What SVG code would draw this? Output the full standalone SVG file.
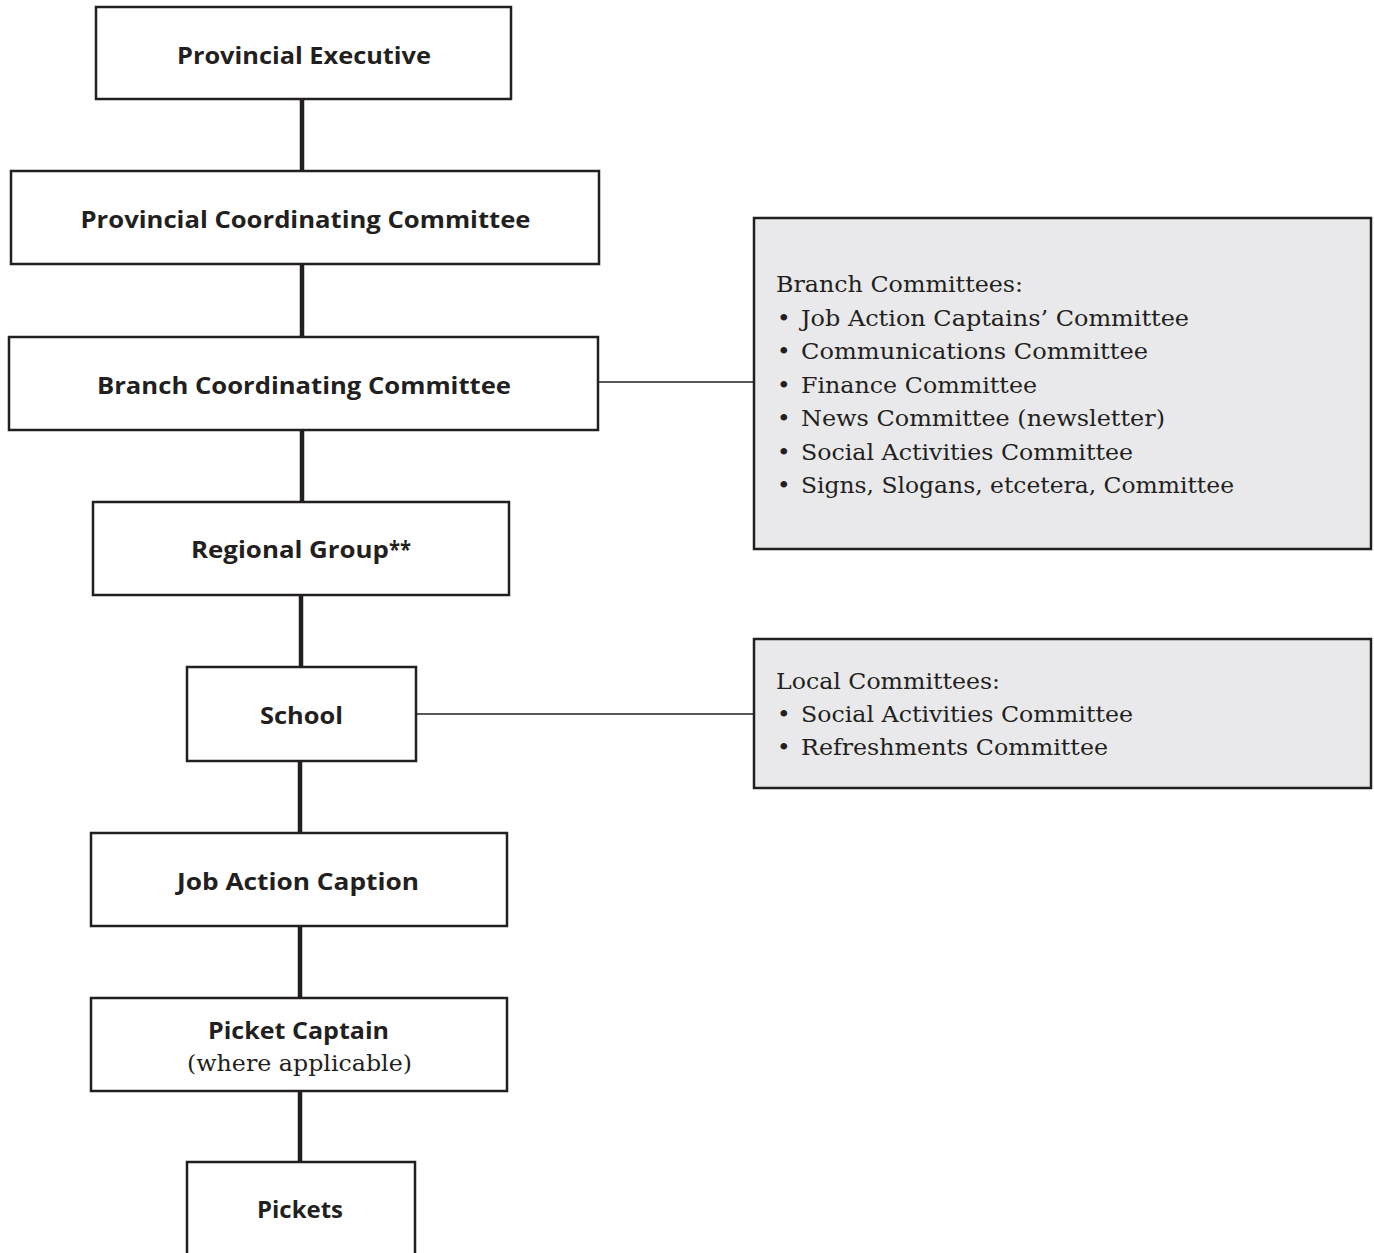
<svg xmlns="http://www.w3.org/2000/svg" width="1374" height="1253" viewBox="0 0 1374 1253">
<style>
.box{fill:#ffffff;stroke:#231f20;stroke-width:2.5}
.gbox{fill:#e9e9eb;stroke:#231f20;stroke-width:2.5}
.thick{stroke:#231f20;stroke-width:4.5;fill:none}
.thin{stroke:#231f20;stroke-width:1.3;fill:none}
.b{font-family:"Open Sans","Liberation Sans",sans-serif;font-weight:bold;font-size:24px;fill:#231f20;text-anchor:middle}
.s{font-family:"DejaVu Serif","Liberation Serif",serif;font-size:23px;fill:#231f20}
.sm{font-family:"DejaVu Serif","Liberation Serif",serif;font-size:23px;fill:#231f20;text-anchor:middle}
</style>
<rect width="1374" height="1253" fill="#ffffff"/>
<g id="connectors">
<line class="thick" x1="302" y1="99" x2="302" y2="171"/>
<line class="thick" x1="302" y1="264" x2="302" y2="337"/>
<line class="thick" x1="302" y1="430" x2="302" y2="502"/>
<line class="thick" x1="301" y1="595" x2="301" y2="667"/>
<line class="thick" x1="300" y1="761" x2="300" y2="833"/>
<line class="thick" x1="300" y1="926" x2="300" y2="998"/>
<line class="thick" x1="300" y1="1091" x2="300" y2="1162"/>
<line class="thin" x1="598" y1="382" x2="754" y2="382"/>
<line class="thin" x1="416" y1="714" x2="754" y2="714"/>
</g>
<g id="provincial-executive">
<rect class="box" x="96" y="7" width="415" height="92"/>
<text class="b" x="304" y="64" textLength="254" lengthAdjust="spacingAndGlyphs">Provincial Executive</text>
</g>
<g id="provincial-coordinating">
<rect class="box" x="11" y="171" width="588" height="93"/>
<text class="b" x="305.5" y="228" textLength="450" lengthAdjust="spacingAndGlyphs">Provincial Coordinating Committee</text>
</g>
<g id="branch-coordinating">
<rect class="box" x="9" y="337" width="589" height="93"/>
<text class="b" x="304" y="394" textLength="414" lengthAdjust="spacingAndGlyphs">Branch Coordinating Committee</text>
</g>
<g id="regional-group">
<rect class="box" x="93" y="502" width="416" height="93"/>
<text class="b" x="290" y="558" textLength="198" lengthAdjust="spacingAndGlyphs">Regional Group</text>
<text class="b" x="400" y="558" font-size="18" textLength="22" lengthAdjust="spacingAndGlyphs">**</text>
</g>
<g id="school">
<rect class="box" x="187" y="667" width="229" height="94"/>
<text class="b" x="301.5" y="724" textLength="83" lengthAdjust="spacingAndGlyphs">School</text>
</g>
<g id="job-action-caption">
<rect class="box" x="91" y="833" width="416" height="93"/>
<text class="b" x="298" y="890" textLength="242" lengthAdjust="spacingAndGlyphs">Job Action Caption</text>
</g>
<g id="picket-captain">
<rect class="box" x="91" y="998" width="416" height="93"/>
<text class="b" x="298.5" y="1039" textLength="181" lengthAdjust="spacingAndGlyphs">Picket Captain</text>
<text class="sm" x="299.5" y="1071" textLength="225" lengthAdjust="spacingAndGlyphs">(where applicable)</text>
</g>
<g id="pickets">
<rect class="box" x="187" y="1162" width="228" height="120"/>
<text class="b" x="300" y="1218" textLength="86" lengthAdjust="spacingAndGlyphs">Pickets</text>
</g>
<g id="branch-committees">
<rect class="gbox" x="754" y="218" width="617" height="331"/>
<text class="s" x="776" y="292" textLength="247" lengthAdjust="spacingAndGlyphs">Branch Committees:</text>
<text class="s" x="777" y="325.5">•</text>
<text class="s" x="801" y="325.5" textLength="388" lengthAdjust="spacingAndGlyphs">Job Action Captains’ Committee</text>
<text class="s" x="777" y="359">•</text>
<text class="s" x="801" y="359" textLength="347" lengthAdjust="spacingAndGlyphs">Communications Committee</text>
<text class="s" x="777" y="392.5">•</text>
<text class="s" x="801" y="392.5" textLength="236" lengthAdjust="spacingAndGlyphs">Finance Committee</text>
<text class="s" x="777" y="426">•</text>
<text class="s" x="801" y="426" textLength="364" lengthAdjust="spacingAndGlyphs">News Committee (newsletter)</text>
<text class="s" x="777" y="459.5">•</text>
<text class="s" x="801" y="459.5" textLength="332" lengthAdjust="spacingAndGlyphs">Social Activities Committee</text>
<text class="s" x="777" y="493">•</text>
<text class="s" x="801" y="493" textLength="433" lengthAdjust="spacingAndGlyphs">Signs, Slogans, etcetera, Committee</text>
</g>
<g id="local-committees">
<rect class="gbox" x="754" y="639" width="617" height="149"/>
<text class="s" x="776" y="689" textLength="224" lengthAdjust="spacingAndGlyphs">Local Committees:</text>
<text class="s" x="777" y="722">•</text>
<text class="s" x="801" y="722" textLength="332" lengthAdjust="spacingAndGlyphs">Social Activities Committee</text>
<text class="s" x="777" y="755">•</text>
<text class="s" x="801" y="755" textLength="307" lengthAdjust="spacingAndGlyphs">Refreshments Committee</text>
</g>
</svg>
